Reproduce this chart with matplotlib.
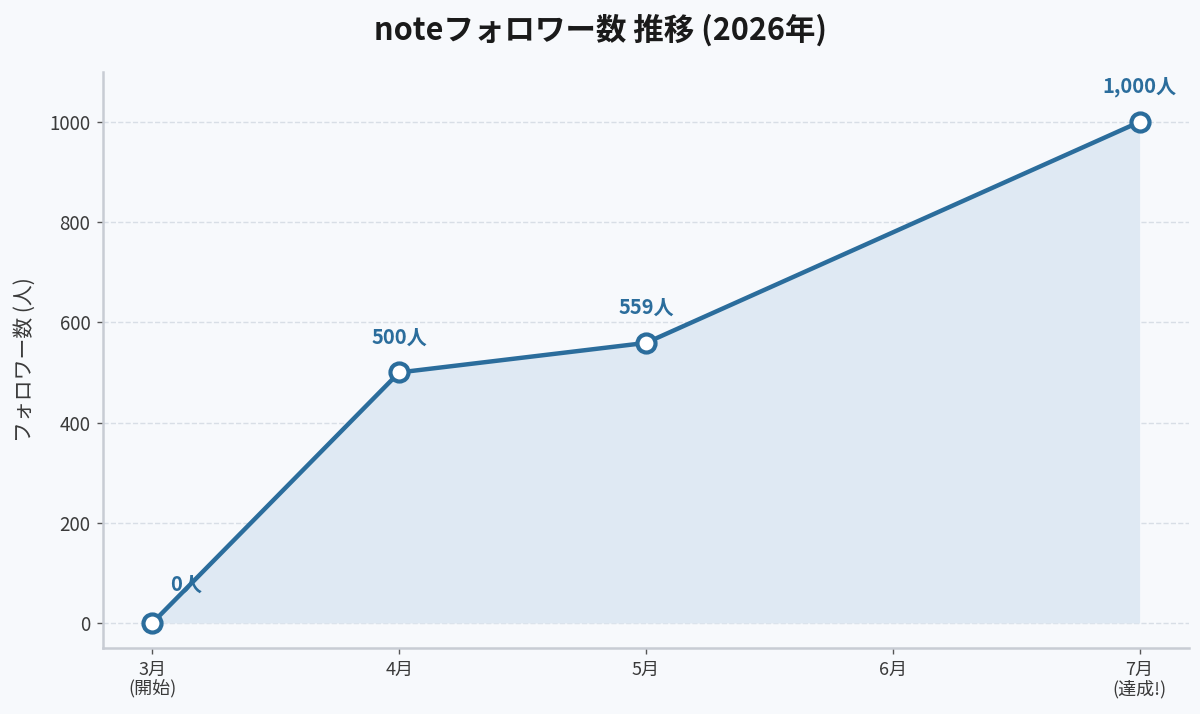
import matplotlib
matplotlib.use("Agg")
import matplotlib.pyplot as plt

plt.rcParams['font.family'] = ['Noto Sans CJK JP', 'DejaVu Sans']

months = ["3月\n(開始)", "4月", "5月", "6月", "7月\n(達成!)"]
point_pos = [0, 1, 2, 4]
followers = [0, 500, 559, 1000]
point_labels = ["0人", "500人", "559人", "1,000人"]
yticks = [0, 200, 400, 600, 800, 1000]

line_color = "#2b6d9c"
fill_color = "#dfe9f3"
bg = "#f7f9fc"

fig = plt.figure(figsize=(12, 7.14), dpi=100, facecolor=bg)
ax = fig.add_axes([0.0858, 0.0924, 0.905, 0.807])
ax.set_facecolor(bg)

ax.fill_between(point_pos, followers, 0, color=fill_color, linewidth=0, zorder=1)
ax.plot(point_pos, followers, color=line_color, linewidth=3.2, zorder=4,
        marker='o', markersize=13, markerfacecolor='white',
        markeredgecolor=line_color, markeredgewidth=3)

offsets = [(24, 20), (0, 18), (0, 18), (0, 18)]
for x, y, lab, off in zip(point_pos, followers, point_labels, offsets):
    ax.annotate(lab, (x, y), xytext=off, textcoords='offset points',
                ha='center', va='bottom', fontsize=14.5, fontweight='bold',
                color=line_color, zorder=3)

ax.set_xlim(-0.2, 4.2)
ax.set_ylim(-50, 1100)
ax.set_xticks(range(len(months)))
ax.set_xticklabels(months, fontsize=13, color="#3a3a3a", linespacing=1.1)
ax.set_yticks(yticks)
ax.set_yticklabels([str(v) for v in yticks], fontsize=13.5, color="#3a3a3a")
ax.set_ylabel("フォロワー数 (人)", fontsize=15, color="#3a3a3a", labelpad=10)

ax.grid(axis='y', linestyle='--', color='#d8dee6', linewidth=1.0, zorder=0)
ax.set_axisbelow(True)
for s in ['top', 'right']:
    ax.spines[s].set_visible(False)
for s in ['left', 'bottom']:
    ax.spines[s].set_color('#c8ccd4')
    ax.spines[s].set_linewidth(1.8)
ax.tick_params(colors='#555555', length=4, width=1.0, pad=5)
ax.tick_params(axis='both', labelcolor='#3a3a3a')

fig.text(0.5, 0.958, "noteフォロワー数 推移 (2026年)", fontsize=22, fontweight='bold',
         color="#1a1a1a", ha='center', va='center')

fig.savefig("out.png", dpi=100, facecolor=bg)
